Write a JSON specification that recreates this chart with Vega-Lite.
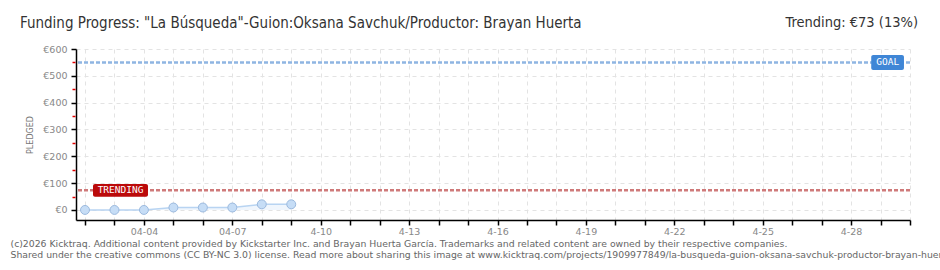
{
  "$schema": "https://vega.github.io/schema/vega-lite/v6.json",
  "autosize": "none",
  "width": 834,
  "height": 171,
  "padding": {"left": 76, "top": 49, "right": 30, "bottom": 50},
  "background": "#ffffff",
  "config": {
    "view": {"stroke": null},
    "font": "DejaVu Sans"
  },
  "title": {
    "text": "Funding Progress: \"La Búsqueda\"-Guion:Oksana Savchuk/Productor: Brayan Huerta",
    "anchor": "start",
    "frame": "group",
    "dx": -56,
    "offset": -16,
    "font": "DejaVu Sans Condensed",
    "fontSize": 15,
    "fontWeight": "normal",
    "color": "#333333"
  },
  "resolve": {"axis": {"y": "independent"}},
  "data": {
    "values": [
      {"date": "2026-04-02", "pledged": 0},
      {"date": "2026-04-03", "pledged": 0},
      {"date": "2026-04-04", "pledged": 0},
      {"date": "2026-04-05", "pledged": 9},
      {"date": "2026-04-06", "pledged": 9},
      {"date": "2026-04-07", "pledged": 9},
      {"date": "2026-04-08", "pledged": 21},
      {"date": "2026-04-09", "pledged": 21}
    ]
  },
  "layer": [
    {
      "mark": {"type": "area", "color": "#e9f2fc", "line": {"color": "#b8d4f2", "strokeWidth": 1.5}},
      "encoding": {
        "x": {
          "field": "date",
          "type": "temporal",
          "scale": {"type": "utc", "domain": [{"year": 2026, "month": 4, "date": 1, "hours": 16, "minutes": 40, "utc": true}, {"year": 2026, "month": 4, "date": 30, "utc": true}]},
          "axis": {
            "tickCount": {"interval": "day", "step": 1},
            "labelExpr": "(utcdate(datum.value) - 1) % 3 == 0 ? (utcdate(datum.value) < 10 ? '04-0' + utcdate(datum.value) : '4-' + utcdate(datum.value)) : ''",
            "labelFont": "DejaVu Sans",
            "labelFontSize": 9.5,
            "labelColor": "#888888",
            "labelPadding": 1,
            "labelOverlap": false,
            "labelFlush": false,
            "domainColor": "#000000",
            "domainWidth": 1.5,
            "tickColor": "#000000",
            "tickSize": 5,
            "tickWidth": 1.5,
            "grid": true,
            "gridColor": "#e3e3e3",
            "gridDash": [4, 4],
            "title": ["(c)2026 Kicktraq. Additional content provided by Kickstarter Inc. and Brayan Huerta García. Trademarks and related content are owned by their respective companies.", "Shared under the creative commons (CC BY-NC 3.0) license. Read more about sharing this image at www.kicktraq.com/projects/1909977849/la-busqueda-guion-oksana-savchuk-productor-brayan-huerta/"],
            "titleFont": "DejaVu Sans",
            "titleFontSize": 9.3,
            "titleFontWeight": "normal",
            "titleColor": "#666666",
            "titleAnchor": "start",
            "titleAlign": "left",
            "titleBaseline": "top",
            "titleX": -66,
            "titleY": 19.5,
            "titleLineHeight": 10.5
          }
        },
        "y": {
          "field": "pledged",
          "type": "quantitative",
          "scale": {"domain": [-37.5, 600], "nice": false, "zero": false},
          "axis": {
            "orient": "left",
            "values": [0, 100, 200, 300, 400, 500, 600],
            "labelExpr": "'€' + datum.value",
            "labelFont": "DejaVu Sans",
            "labelFontSize": 9.5,
            "labelColor": "#888888",
            "labelPadding": 4,
            "labelOverlap": false,
            "domainColor": "#000000",
            "domainWidth": 1.5,
            "tickColor": "#000000",
            "tickSize": 5,
            "tickWidth": 1.5,
            "grid": true,
            "gridColor": "#e3e3e3",
            "gridDash": [4, 4],
            "title": "PLEDGED",
            "titleFont": "DejaVu Sans",
            "titleFontSize": 8,
            "titleFontWeight": "normal",
            "titleColor": "#777777",
            "titlePadding": 8
          }
        }
      }
    },
    {
      "mark": {"type": "point", "shape": "circle", "filled": true, "size": 80, "fill": "#c6ddf6", "stroke": "#9bb9de", "strokeWidth": 1, "opacity": 1},
      "encoding": {
        "x": {"field": "date", "type": "temporal"},
        "y": {"field": "pledged", "type": "quantitative", "axis": null}
      }
    },
    {
      "data": {"values": [{}]},
      "mark": {"type": "rule", "stroke": "#8fb5e2", "strokeWidth": 2.5, "strokeDash": [4, 2]},
      "encoding": {"y": {"datum": 550, "type": "quantitative", "axis": {
        "orient": "left",
        "values": [50, 150, 250, 350, 450, 550],
        "labels": false,
        "domain": false,
        "grid": false,
        "ticks": true,
        "tickColor": "#e00000",
        "tickSize": 3,
        "tickWidth": 1.5,
        "tickOffset": 0,
        "title": null,
        "offset": 1
      }}}
    },
    {
      "data": {"values": [{}]},
      "mark": {"type": "rule", "stroke": "#cf7a7a", "strokeWidth": 2.5, "strokeDash": [4, 2]},
      "encoding": {"y": {"datum": 73, "type": "quantitative", "axis": null}}
    },
    {
      "data": {"values": [{}]},
      "mark": {"type": "rect", "color": "#3f86d6", "cornerRadius": 2},
      "encoding": {
        "x": {"datum": {"year": 2026, "month": 4, "date": 28, "hours": 16, "minutes": 25, "utc": true}, "type": "temporal"},
        "x2": {"datum": {"year": 2026, "month": 4, "date": 29, "hours": 19, "minutes": 5, "utc": true}},
        "y": {"datum": 522, "type": "quantitative", "axis": null},
        "y2": {"datum": 578}
      }
    },
    {
      "data": {"values": [{}]},
      "mark": {"type": "text", "text": "GOAL", "color": "#ffffff", "font": "DejaVu Sans Mono", "fontSize": 9.5, "fontWeight": "normal", "align": "center", "baseline": "middle"},
      "encoding": {
        "x": {"datum": {"year": 2026, "month": 4, "date": 29, "hours": 5, "minutes": 52, "utc": true}, "type": "temporal"},
        "y": {"datum": 550, "type": "quantitative", "axis": null}
      }
    },
    {
      "data": {"values": [{}]},
      "mark": {"type": "rect", "color": "#bb0a0a", "cornerRadius": 2},
      "encoding": {
        "x": {"datum": {"year": 2026, "month": 4, "date": 2, "hours": 6, "minutes": 31, "utc": true}, "type": "temporal"},
        "x2": {"datum": {"year": 2026, "month": 4, "date": 4, "hours": 3, "minutes": 18, "utc": true}},
        "y": {"datum": 49, "type": "quantitative", "axis": null},
        "y2": {"datum": 97}
      }
    },
    {
      "data": {"values": [{}]},
      "mark": {"type": "text", "text": "TRENDING", "color": "#ffffff", "font": "DejaVu Sans Mono", "fontSize": 9.5, "fontWeight": "normal", "align": "center", "baseline": "middle"},
      "encoding": {
        "x": {"datum": {"year": 2026, "month": 4, "date": 3, "hours": 4, "minutes": 55, "utc": true}, "type": "temporal"},
        "y": {"datum": 73, "type": "quantitative", "axis": null}
      }
    },
    {
      "data": {"values": [{}]},
      "mark": {"type": "text", "text": "Trending: €73 (13%)", "color": "#333333", "font": "DejaVu Sans Condensed", "fontSize": 14.5, "fontWeight": "normal", "align": "right", "baseline": "middle"},
      "encoding": {
        "x": {"datum": {"year": 2026, "month": 4, "date": 30, "hours": 6, "minutes": 30, "utc": true}, "type": "temporal"},
        "y": {"datum": 697, "type": "quantitative", "axis": null}
      }
    }
  ]
}
